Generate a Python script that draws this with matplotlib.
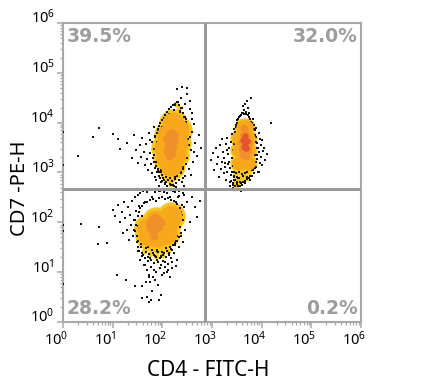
import numpy as np
import matplotlib
matplotlib.use("Agg")
import matplotlib.pyplot as plt
from matplotlib.ticker import LogLocator, NullFormatter
from matplotlib.transforms import ScaledTranslation

# all events are log10 values
# sparse events, upper left population
a_sparse_x = [0.0, 0.0, 0.31, 0.6, 0.72, 1.0, 1.1, 1.15, 1.28, 1.38, 1.42, 1.47, 1.5, 1.55, 1.58, 1.6, 1.63, 1.66, 1.68, 1.7,
              1.72, 1.74, 1.76, 1.78, 1.8, 1.8, 1.82, 1.84, 1.85, 1.86, 1.88, 1.88, 1.9, 1.9, 1.92, 1.92, 1.94, 1.95, 1.96, 1.98,
              1.98, 2.0, 2.0, 2.02, 2.04, 2.05, 2.06, 2.08, 2.08, 2.1, 2.12, 2.12, 2.14, 2.15, 2.16, 2.18, 2.2, 2.22, 2.22, 2.24,
              2.25, 2.26, 2.28, 2.3, 2.3, 2.32, 2.34, 2.35, 2.36, 2.38, 2.4, 2.4, 2.42, 2.44, 2.45, 2.46, 2.48, 2.48, 2.5, 2.5,
              2.52, 2.54, 2.55, 2.56, 2.58, 2.6, 2.62, 2.64, 2.66, 2.7, 2.74, 2.78, 2.4, 2.5, 2.55, 2.6, 2.3, 2.44, 1.85, 1.93,
              2.03, 2.11, 2.19, 2.27, 2.33, 2.41, 2.47, 2.53, 2.57, 2.59, 2.63, 1.75, 1.83, 1.91, 1.97, 2.07, 2.17, 2.29, 2.37, 2.43]
a_sparse_y = [3.81, 3.15, 3.33, 3.71, 3.9, 3.78, 3.67, 3.47, 3.6, 3.3, 3.75, 3.45, 3.2, 3.55, 3.32, 3.7, 3.42, 3.15, 3.58, 3.28,
              3.05, 3.8, 3.4, 3.18, 3.62, 2.98, 3.3, 3.48, 3.1, 3.74, 2.85, 3.22, 3.56, 3.02, 3.38, 3.85, 2.92, 3.18, 3.68, 2.8,
              3.05, 3.46, 3.92, 2.88, 3.12, 4.02, 2.78, 3.28, 2.96, 4.1, 2.84, 3.05, 4.18, 2.76, 2.95, 4.05, 2.82, 2.74, 3.0, 4.25,
              4.35, 2.9, 2.78, 4.15, 2.98, 4.42, 2.84, 4.22, 3.05, 4.5, 2.8, 4.3, 3.12, 4.12, 2.92, 4.38, 3.18, 4.0, 3.3, 4.58,
              3.9, 3.08, 3.72, 4.28, 3.45, 3.82, 3.22, 3.98, 3.6, 3.34, 3.76, 3.5, 4.72, 4.7, 4.44, 4.2, 4.68, 3.98, 2.9, 2.72,
              3.95, 2.98, 3.12, 2.7, 3.2, 2.88, 4.08, 3.55, 2.95, 4.08, 3.42, 3.65, 3.92, 3.08, 3.6, 3.72, 3.85, 3.95, 3.02, 2.72]
# dense black events on the edge of the body
a_rim_x = [1.84, 1.87, 1.9, 1.83, 1.86, 1.89, 1.92, 1.88, 1.91, 1.94, 1.93, 1.96, 1.99, 1.97, 2.0, 2.03, 2.02, 2.06, 2.1, 2.07,
           2.14, 2.18, 2.22, 2.26, 2.3, 2.34, 2.38, 2.35, 2.42, 2.45, 2.47, 2.5, 2.49, 2.51, 2.46, 2.44, 2.48, 2.42, 2.39, 2.36,
           2.4, 2.33, 2.37, 2.3, 2.26, 2.2, 2.16, 2.12, 2.08, 2.04, 2.0, 1.96, 1.94, 2.28, 2.24, 2.18, 2.1, 2.05, 2.34, 2.41]
a_rim_y = [3.35, 3.48, 3.62, 3.22, 3.72, 3.8, 3.88, 3.14, 3.06, 3.94, 3.24, 4.0, 4.05, 3.0, 2.95, 4.1, 3.1, 4.15, 4.22, 2.9,
           4.28, 4.32, 4.35, 4.38, 4.42, 4.36, 4.3, 4.24, 4.2, 4.12, 4.02, 3.92, 3.8, 3.68, 3.58, 3.46, 3.72, 3.34, 3.24, 3.14,
           3.4, 3.04, 2.98, 2.92, 2.86, 2.82, 2.88, 2.84, 2.8, 2.85, 2.82, 2.88, 3.0, 2.78, 2.72, 2.74, 2.72, 2.76, 2.85, 3.08]

# yellow rim, gold body, orange core, upper left population
a_yellow_x = [2.02, 2.08, 2.14, 2.2, 2.26, 2.32, 2.38, 1.96, 2.0, 2.06, 2.12, 2.18, 2.24, 2.3, 2.36, 2.42, 2.48, 2.46, 2.34, 2.28]
a_yellow_y = [2.95, 2.88, 2.84, 2.86, 2.9, 2.94, 3.0, 3.05, 3.02, 3.0, 2.98, 2.76, 2.96, 3.0, 3.08, 4.1, 3.8, 3.92, 4.3, 4.38]
a_body_x = [2.05, 2.3, 2.1, 2.25, 2.12, 2.32, 2.22, 2.17]
a_body_y = [3.5, 3.6, 3.3, 3.35, 3.75, 3.85, 4.0, 3.15]
a_orange_x = [2.08, 2.14, 2.2, 2.26, 2.12, 2.18, 2.24, 2.1, 2.16, 2.22, 2.14, 2.2]
a_orange_y = [3.68, 3.78, 3.82, 3.76, 3.56, 3.66, 3.64, 3.44, 3.5, 3.52, 3.34, 3.38]

# upper right population
b_sparse_x = [2.98, 3.02, 3.05, 3.08, 3.1, 3.12, 3.14, 3.16, 3.18, 3.2, 3.2, 3.22, 3.24, 3.25, 3.26, 3.28, 3.28, 3.3, 3.3, 3.32,
              3.32, 3.34, 3.36, 3.36, 3.38, 3.38, 3.4, 3.4, 3.42, 3.44, 3.44, 3.46, 3.48, 3.5, 3.5, 3.52, 3.54, 3.56, 3.58, 3.6,
              3.62, 3.64, 3.66, 3.68, 3.7, 3.72, 3.74, 3.76, 3.78, 3.8, 3.82, 3.84, 3.84, 3.86, 3.86, 3.88, 3.88, 3.9, 3.9, 3.92,
              3.92, 3.94, 3.94, 3.96, 3.96, 3.98, 3.98, 4.0, 4.02, 4.04, 4.06, 4.1, 4.18, 3.7, 3.62, 3.78, 3.36, 3.42, 3.46, 3.52,
              3.34, 3.58, 3.66, 3.74, 3.82, 3.3, 3.26, 3.94, 3.88, 4.0]
b_sparse_y = [3.25, 3.4, 3.05, 3.5, 3.18, 3.32, 2.9, 3.55, 3.08, 3.68, 3.22, 3.42, 2.98, 3.3, 3.12, 3.58, 2.85, 3.7, 3.02, 3.38,
              3.18, 3.5, 2.8, 3.1, 3.62, 2.95, 3.78, 3.02, 2.78, 3.88, 2.92, 2.84, 3.95, 2.76, 4.05, 2.88, 4.12, 2.8, 4.15, 2.74,
              4.2, 4.25, 2.78, 4.18, 2.86, 4.3, 4.12, 2.92, 4.02, 3.05, 4.08, 3.95, 3.2, 3.85, 3.35, 3.72, 3.12, 3.6, 3.28, 3.5,
              3.02, 3.8, 3.42, 3.68, 3.2, 3.55, 3.32, 3.66, 3.44, 3.5, 3.25, 3.38, 4.0, 4.44, 4.34, 4.5, 2.72, 2.68, 2.64, 2.72,
              3.22, 2.62, 4.38, 4.2, 3.1, 3.45, 3.2, 3.0, 3.9, 3.15]
b_rim_x = [3.4, 3.42, 3.44, 3.42, 3.44, 3.46, 3.44, 3.46, 3.48, 3.5, 3.52, 3.56, 3.6, 3.64, 3.68, 3.72, 3.76, 3.8, 3.84, 3.86,
           3.88, 3.9, 3.9, 3.88, 3.86, 3.84, 3.82, 3.8, 3.78, 3.74, 3.7, 3.66, 3.62, 3.58, 3.54, 3.5, 3.46, 3.42, 3.38, 3.44,
           3.5, 3.56, 3.62, 3.48, 3.54, 3.6, 3.66, 3.7, 3.76, 3.82]
b_rim_y = [3.3, 3.45, 3.58, 3.14, 3.02, 3.7, 2.9, 3.82, 3.92, 4.0, 4.08, 4.14, 4.2, 4.18, 4.22, 4.16, 4.08, 4.0, 3.88, 3.75,
           3.62, 3.5, 3.36, 3.22, 3.1, 2.98, 3.05, 2.92, 3.15, 2.88, 3.02, 2.82, 2.92, 2.78, 2.88, 2.8, 2.72, 2.75, 2.82, 2.84,
           2.9, 2.72, 2.8, 2.98, 3.02, 2.96, 2.98, 2.9, 2.84, 3.2]
b_yellow_x = [3.46, 3.5, 3.54, 3.58, 3.62, 3.66, 3.7, 3.74, 3.78, 3.48, 3.52, 3.56, 3.6, 3.64, 3.7, 3.46, 3.5, 3.54]
b_yellow_y = [2.95, 3.0, 3.05, 2.98, 3.02, 2.95, 3.0, 3.02, 3.08, 2.85, 2.82, 2.88, 2.85, 2.9, 2.88, 2.76, 2.74, 2.78]
b_body_x = [3.55, 3.72, 3.55, 3.73, 3.55, 3.73, 3.62, 3.68]
b_body_y = [3.2, 3.2, 3.45, 3.45, 3.7, 3.7, 3.92, 3.92]
b_orange_x = [3.58, 3.62, 3.66, 3.7, 3.74, 3.6, 3.66, 3.72, 3.62, 3.68, 3.64, 3.7]
b_orange_y = [3.62, 3.76, 3.84, 3.74, 3.6, 3.48, 3.62, 3.46, 3.36, 3.34, 3.9, 3.52]
b_red_x = [3.62, 3.66, 3.7, 3.64, 3.68, 3.66]
b_red_y = [3.66, 3.74, 3.64, 3.52, 3.5, 3.6]

# lower left population
c_sparse_x = [0.0, 0.0, 0.0, 0.36, 0.72, 0.7, 0.88, 1.08, 1.27, 1.45, 1.59, 1.69, 1.73, 1.78, 1.98, 1.94, 1.75, 1.0, 1.05, 1.1,
              1.14, 1.18, 1.2, 1.22, 1.25, 1.28, 1.3, 1.32, 1.34, 1.36, 1.38, 1.4, 1.42, 1.44, 1.44, 1.46, 1.48, 1.5, 1.5, 1.52,
              1.54, 1.56, 1.56, 1.58, 1.6, 1.6, 1.62, 1.64, 1.64, 1.66, 1.68, 1.7, 1.7, 1.72, 1.74, 1.76, 1.76, 1.78, 1.8, 1.82,
              1.82, 1.84, 1.86, 1.88, 1.88, 1.9, 1.92, 1.94, 1.96, 1.98, 2.0, 2.0, 2.02, 2.04, 2.06, 2.08, 2.1, 2.1, 2.12, 2.14,
              2.16, 2.18, 2.2, 2.2, 2.22, 2.24, 2.26, 2.28, 2.3, 2.3, 2.32, 2.34, 2.36, 2.38, 2.4, 2.42, 2.44, 2.46, 2.5, 2.55,
              2.6, 2.65, 2.7, 2.75, 1.6, 1.68, 1.74, 1.8, 1.86, 1.92, 1.98, 2.04, 2.1, 2.16, 1.55, 1.65, 1.72, 1.84, 1.9, 2.06,
              2.12, 2.2, 2.28, 1.95, 2.02, 2.18, 2.26, 2.34, 2.42, 2.5]
c_sparse_y = [1.95, 1.83, 0.76, 1.97, 1.9, 1.56, 1.58, 0.94, 0.84, 0.72, 0.48, 0.5, 0.4, 0.44, 0.55, 0.44, 0.8, 2.25, 2.12, 2.35,
              2.0, 2.2, 1.78, 2.4, 2.08, 1.85, 2.3, 1.65, 2.15, 1.95, 2.42, 1.72, 2.05, 2.5, 1.82, 2.22, 1.6, 2.55, 1.92, 1.42,
              2.32, 1.7, 2.58, 1.5, 2.12, 1.32, 2.62, 1.62, 1.15, 2.4, 1.4, 2.6, 1.05, 1.5, 0.95, 2.66, 1.28, 1.1, 2.5, 1.38,
              0.9, 1.18, 2.6, 1.3, 1.0, 1.45, 1.2, 2.62, 1.08, 1.32, 1.4, 0.95, 1.22, 2.6, 1.1, 1.3, 2.58, 1.42, 1.16, 1.35,
              2.5, 1.28, 1.45, 1.08, 2.62, 1.38, 1.55, 2.4, 1.25, 1.62, 2.5, 1.5, 2.65, 1.72, 2.35, 1.6, 2.55, 1.85, 2.4, 2.0,
              2.5, 2.3, 2.1, 2.42, 0.72, 0.8, 0.9, 0.62, 0.85, 0.75, 1.15, 0.98, 1.0, 0.9, 1.25, 1.15, 1.22, 1.05, 1.25, 1.2,
              1.05, 1.2, 1.12, 2.62, 2.66, 2.66, 2.6, 2.62, 2.58, 2.65]
c_rim_x = [1.42, 1.46, 1.44, 1.5, 1.48, 1.52, 1.54, 1.5, 1.56, 1.54, 1.6, 1.58, 1.64, 1.62, 1.7, 1.68, 1.76, 1.74, 1.82, 1.8,
           1.88, 1.86, 1.94, 1.92, 2.0, 1.98, 2.06, 2.04, 2.12, 2.1, 2.18, 2.16, 2.24, 2.22, 2.3, 2.28, 2.36, 2.34, 2.4, 2.38,
           2.42, 2.36, 2.32, 2.38, 2.3, 2.26, 2.22, 2.18, 2.14, 2.08, 2.02, 1.96, 1.9, 1.84, 1.78, 1.72, 1.66, 1.6, 2.34, 2.44]
c_rim_y = [1.85, 1.95, 2.05, 2.12, 1.72, 1.62, 2.2, 1.5, 2.28, 1.42, 2.32, 1.56, 2.38, 1.35, 2.4, 1.48, 2.44, 1.36, 2.46, 1.44,
           2.42, 1.32, 2.48, 1.4, 2.5, 1.3, 2.46, 1.38, 2.48, 1.42, 2.44, 1.5, 2.42, 1.55, 2.36, 1.62, 2.28, 1.7, 2.15, 1.78,
           2.05, 1.9, 1.98, 2.2, 1.72, 1.58, 1.62, 1.46, 1.38, 1.48, 1.35, 1.28, 1.42, 1.34, 1.25, 1.3, 1.28, 1.38, 2.52, 2.3]
c_yellow_x = [1.6, 1.66, 1.72, 1.78, 1.84, 1.9, 1.96, 2.02, 2.08, 2.14, 1.64, 1.76, 1.88, 2.0, 2.12, 2.24, 2.3, 1.5]
c_yellow_y = [1.55, 1.5, 1.48, 1.46, 1.44, 1.42, 1.44, 1.46, 1.5, 1.55, 1.42, 1.36, 1.32, 1.34, 1.42, 2.3, 2.22, 2.0]
c_body_x = [1.72, 1.95, 1.88, 2.12, 1.9, 1.74, 2.08, 2.18]
c_body_y = [1.88, 1.92, 2.02, 2.02, 1.72, 1.74, 1.78, 2.12]
c_orange_x = [1.74, 1.8, 1.86, 1.92, 1.98, 1.76, 1.82, 1.88, 1.94, 1.8, 1.86, 1.84]
c_orange_y = [1.98, 2.06, 2.1, 2.06, 2.0, 1.88, 1.94, 1.98, 1.9, 1.8, 1.84, 1.72]

# gates and labels
gate_x = 2.86
gate_y = 2.67
pct_labels = ["39.5%", "32.0%", "28.2%", "0.2%"]
decades = [0, 1, 2, 3, 4, 5, 6]
x_title = "CD4 - FITC-H"
y_title = "CD7 -PE-H"

YELLOW = "#fbc515"
GOLD = "#f7a81b"
ORANGE = "#f0902a"
RED = "#e4572e"
FRAME = "#a8a8a8"


def events(xs, ys):
    return 10.0 ** np.array(xs), 10.0 ** np.array(ys)


plt.rcParams["font.family"] = ["Noto Sans", "DejaVu Sans"]
plt.rcParams["mathtext.default"] = "regular"

fig = plt.figure(figsize=(4.28, 3.90), dpi=100)
ax = fig.add_axes([63 / 428, 1 - 322 / 390, 298 / 428, 299 / 390])
ax.set_xscale("log")
ax.set_yscale("log")
ax.set_xlim(1, 1e6)
ax.set_ylim(1, 1e6)

# yellow under the black events, gold and hot colours over them
ax.scatter(*events(a_body_x, a_body_y), s=420, c=YELLOW, linewidths=0, zorder=2)
ax.scatter(*events(b_body_x, b_body_y), s=170, c=YELLOW, linewidths=0, zorder=2)
ax.scatter(*events(c_body_x, c_body_y), s=420, c=YELLOW, linewidths=0, zorder=2)
for xs, ys in [(a_yellow_x, a_yellow_y), (b_yellow_x, b_yellow_y), (c_yellow_x, c_yellow_y)]:
    ax.scatter(*events(xs, ys), s=16, c=YELLOW, linewidths=0, zorder=2)
for xs, ys in [(a_sparse_x, a_sparse_y), (b_sparse_x, b_sparse_y), (c_sparse_x, c_sparse_y),
               (a_rim_x, a_rim_y), (b_rim_x, b_rim_y), (c_rim_x, c_rim_y)]:
    ax.scatter(*events(xs, ys), s=1.1, c="#111111", marker="s", linewidths=0, zorder=3)
ax.scatter(*events(a_body_x, a_body_y), s=250, c=GOLD, linewidths=0, zorder=4)
ax.scatter(*events(b_body_x, b_body_y), s=105, c=GOLD, linewidths=0, zorder=4)
ax.scatter(*events(c_body_x, c_body_y), s=250, c=GOLD, linewidths=0, zorder=4)
for xs, ys in [(a_orange_x, a_orange_y), (b_orange_x, b_orange_y), (c_orange_x, c_orange_y)]:
    ax.scatter(*events(xs, ys), s=30, c=ORANGE, linewidths=0, zorder=5)
ax.scatter(*events(b_red_x, b_red_y), s=22, c=RED, linewidths=0, zorder=6)

ax.axvline(10 ** gate_x, color="#999999", lw=2.2, zorder=7)
ax.axhline(10 ** gate_y, color="#999999", lw=2.2, zorder=7)

for (tx, ty, ha, va), label in zip([(0.012, 0.985, "left", "top"), (0.99, 0.985, "right", "top"),
                                    (0.012, 0.012, "left", "bottom"), (0.99, 0.012, "right", "bottom")],
                                   pct_labels):
    ax.text(tx, ty, label, transform=ax.transAxes, ha=ha, va=va, color="#9d9d9d",
            fontsize=13.5, fontweight="bold", family="DejaVu Sans", zorder=8)

for side in ax.spines.values():
    side.set_color(FRAME)
    side.set_linewidth(1.5)

tick_pos = [10.0 ** d for d in decades]
tick_text = ["10$^{%d}$" % d for d in decades]
ax.set_xticks(tick_pos)
ax.set_yticks(tick_pos)
ax.set_xticklabels(tick_text, fontsize=10.5)
ax.set_yticklabels(tick_text, fontsize=10.5)
ax.xaxis.set_minor_locator(LogLocator(base=10, subs=range(2, 10), numticks=12))
ax.yaxis.set_minor_locator(LogLocator(base=10, subs=range(2, 10), numticks=12))
ax.xaxis.set_minor_formatter(NullFormatter())
ax.yaxis.set_minor_formatter(NullFormatter())
ax.tick_params(which="major", length=4, width=1.1, color=FRAME, pad=2)
ax.tick_params(which="minor", length=2.5, width=0.9, color=FRAME)

# y labels sit above their tick, x labels left of it
nudge_y = ScaledTranslation(0, 5 / 72, fig.dpi_scale_trans)
nudge_x = ScaledTranslation(-5 / 72, 0, fig.dpi_scale_trans)
for lab in ax.get_yticklabels():
    lab.set_transform(lab.get_transform() + nudge_y)
for lab in ax.get_xticklabels():
    lab.set_transform(lab.get_transform() + nudge_x)

fig.text(208 / 428, 1 - 371 / 390, x_title, ha="center", va="center", fontsize=15)
fig.text(20 / 428, 1 - 188 / 390, y_title, ha="center", va="center", rotation=90, fontsize=14.5)

fig.savefig("out.png", dpi=100)
